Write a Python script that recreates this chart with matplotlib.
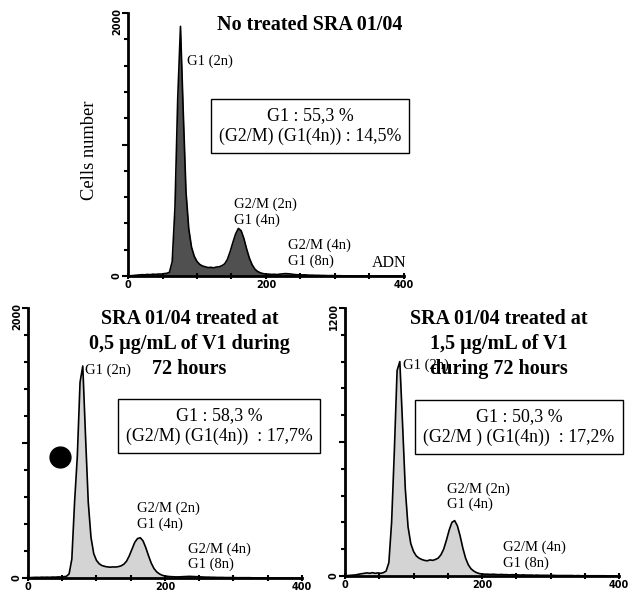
import numpy as np
import matplotlib
matplotlib.use("Agg")
import matplotlib.pyplot as plt

plt.rcParams['font.family'] = ['Liberation Serif', 'DejaVu Serif']

# DNA content channels (step 4) and cell counts
channels = np.arange(0, 400, 4)

cells_untreated = [
    0, 2, 4, 6, 8, 10, 9, 12, 10, 14,
    12, 15, 14, 18, 20, 28, 110, 520, 1350, 1900,
    1250, 640, 360, 220, 150, 110, 88, 76, 70, 64,
    66, 62, 68, 70, 78, 92, 125, 185, 255, 320,
    362, 345, 285, 205, 135, 85, 52, 34, 24, 18,
    15, 14, 12, 13, 11, 14, 16, 18, 17, 15,
    12, 10, 9, 8, 9, 7, 6, 6, 5, 5,
    4, 4, 3, 3, 3, 2, 2, 2, 1, 1,
    1, 0, 0, 0, 0, 0, 0, 0, 0, 0,
    0, 0, 0, 0, 0, 0, 0, 0, 0, 0,
]

cells_05 = [
    0, 3, 4, 5, 4, 6, 5, 6, 5, 7,
    6, 8, 7, 9, 12, 30, 140, 560, 900, 1450,
    1570, 1050, 560, 300, 180, 130, 105, 92, 86, 82,
    80, 82, 81, 84, 90, 102, 125, 165, 215, 265,
    292, 298, 275, 225, 165, 110, 70, 45, 30, 20,
    15, 12, 10, 9, 8, 8, 9, 10, 11, 12,
    11, 10, 9, 8, 7, 6, 6, 5, 5, 4,
    4, 4, 3, 3, 3, 3, 2, 2, 2, 2,
    2, 2, 1, 1, 1, 1, 0, 0, 0, 0,
    0, 0, 0, 0, 0, 0, 0, 0, 0, 0,
]

cells_15 = [
    0, 2, 3, 4, 5, 8, 10, 12, 14, 12,
    15, 12, 14, 12, 15, 22, 60, 240, 560, 920,
    960, 680, 390, 220, 145, 110, 90, 80, 74, 70,
    68, 72, 70, 74, 80, 95, 120, 160, 205, 240,
    248, 225, 180, 125, 80, 50, 32, 22, 15, 11,
    9, 8, 8, 7, 8, 7, 6, 7, 6, 6,
    5, 6, 5, 5, 4, 5, 4, 4, 4, 3,
    4, 3, 3, 3, 3, 2, 3, 2, 2, 2,
    2, 2, 2, 2, 1, 2, 1, 1, 1, 1,
    1, 1, 1, 1, 1, 1, 0, 0, 0, 0,
]

titles = [
    "No treated SRA 01/04",
    "SRA 01/04 treated at\n0,5 µg/mL of V1 during\n72 hours",
    "SRA 01/04 treated at\n1,5 µg/mL of V1\nduring 72 hours",
]
box_texts = [
    "G1 : 55,3 %\n(G2/M) (G1(4n)) : 14,5%",
    "G1 : 58,3 %\n(G2/M) (G1(4n))  : 17,7%",
    "G1 : 50,3 %\n(G2/M ) (G1(4n))  : 17,2%",
]
y_max = [2000, 2000, 1200]

tick_font = dict(family='DejaVu Sans', weight='bold', size=7)


def draw_panel(ax, counts, ymax, fill):
    ax.fill_between(channels, counts, color=fill, lw=0)
    ax.plot(channels, counts, color='black', lw=1.2)
    ax.set_xlim(0, 400)
    ax.set_ylim(0, ymax)
    for s in ['top', 'right']:
        ax.spines[s].set_visible(False)
    for s in ['left', 'bottom']:
        ax.spines[s].set_linewidth(2)
    ax.set_xticks([0, 200, 400])
    ax.set_xticks(np.arange(0, 401, 50), minor=True)
    ax.set_yticks([0, ymax / 2, ymax])
    ax.set_yticklabels(['0', '', ''], rotation=90, va='center')
    ax.set_yticks(np.linspace(0, ymax, 11), minor=True)
    ax.tick_params(which='both', width=1.5, length=4, pad=1)
    ax.tick_params(which='minor', length=3)
    ax.tick_params(axis='x', which='both', direction='inout', length=5, pad=0.5)
    for lab in ax.get_xticklabels() + ax.get_yticklabels():
        lab.set_fontproperties(tick_font)
    # top value label sits a little below the axis end
    ax.annotate(str(ymax), xy=(0, ymax), xytext=(-8, -6),
                textcoords='offset points', rotation=90,
                ha='center', va='center', **tick_font)


def draw_title(ax, x, y, text):
    lines = text.split('\n')
    n = len(lines)
    for i, line in enumerate(lines):
        ax.annotate(line, xy=(x, y), xytext=(0, -(i - (n - 1) / 2) * 18),
                    textcoords='offset points', ha='center', va='center',
                    fontsize=14.5, fontweight='bold', annotation_clip=False)


fig = plt.figure(figsize=(6.31, 6.0), dpi=100)
ax_top = fig.add_axes([0.203, 0.54, 0.437, 0.438])
ax_l = fig.add_axes([0.0444, 0.0367, 0.434, 0.45])
ax_r = fig.add_axes([0.5468, 0.04, 0.4342, 0.4467])

draw_panel(ax_top, cells_untreated, y_max[0], '#505050')
draw_panel(ax_l, cells_05, y_max[1], '#d4d4d4')
draw_panel(ax_r, cells_15, y_max[2], '#d4d4d4')

box_kw = dict(ha='center', va='center', fontsize=12.9, linespacing=1.3,
              clip_on=False,
              bbox=dict(boxstyle='square,pad=0.45', fc='white', ec='black', lw=1))
small_kw = dict(ha='left', va='center', fontsize=10.5, linespacing=1.2,
                clip_on=False)

# top panel
draw_title(ax_top, 264, 1909, titles[0])
ax_top.text(264, 1141, box_texts[0], **box_kw)
ax_top.text(86, 1635, "G1 (2n)", **small_kw)
ax_top.text(154, 487, "G2/M (2n)\nG1 (4n)", **small_kw)
ax_top.text(232, 175, "G2/M (4n)\nG1 (8n)", **small_kw)
ax_top.text(354, 99, "ADN", ha='left', va='center', fontsize=11.5)
ax_top.set_ylabel("Cells number", fontsize=13.3)
ax_top.yaxis.set_label_coords(-0.11, 0.48)

# bottom left panel
draw_title(ax_l, 236, 1733, titles[1])
ax_l.text(279, 1126, box_texts[1], **box_kw)
ax_l.text(83, 1541, "G1 (2n)", **small_kw)
ax_l.text(159, 459, "G2/M (2n)\nG1 (4n)", **small_kw)
ax_l.text(234, 156, "G2/M (4n)\nG1 (8n)", **small_kw)
ax_l.plot([47], [896], 'o', color='black', ms=15)

# bottom right panel
ax_r.text(84, 945, "G1 (2n)", **small_kw)
draw_title(ax_r, 224, 1039, titles[2])
ax_r.text(254, 667, box_texts[2], **box_kw)
ax_r.text(149, 354, "G2/M (2n)\nG1 (4n)", **small_kw)
ax_r.text(231, 94, "G2/M (4n)\nG1 (8n)", **small_kw)

fig.savefig("out.png", dpi=100)
